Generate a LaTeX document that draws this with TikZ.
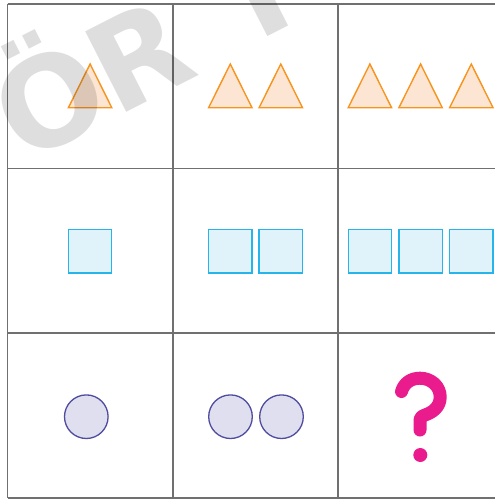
\documentclass[tikz,border=0pt]{standalone}
\usepackage{fontspec}
\newfontfamily\wmfont{DejaVu Sans Bold}
\definecolor{gridcol}{HTML}{707070}
\definecolor{triline}{HTML}{F7941D}
\definecolor{trifill}{HTML}{FDE5D3}
\definecolor{sqline}{HTML}{27B4EA}
\definecolor{sqfill}{HTML}{E0F3FA}
\definecolor{cirline}{HTML}{4F4C9F}
\definecolor{cirfill}{HTML}{E0DFEF}
\definecolor{qcol}{HTML}{EA1C8D}
\tikzset{
  gridline/.style={draw=gridcol, line width=1.8pt},
  tri/.style={draw=triline, fill=trifill, line width=1.4pt, line join=miter},
  sqr/.style={draw=sqline, fill=sqfill, line width=1.3pt},
  circ/.style={draw=cirline, fill=cirfill, line width=1.3pt},
  qmark/.style={draw=qcol, line width=13pt, line cap=round, line join=round},
  wmark/.style={text=black, text opacity=0.13, inner sep=0pt, anchor=base, rotate=27,
    font=\wmfont\fontsize{124}{124}\selectfont}
}
\begin{document}
\begin{tikzpicture}[x=1pt,y=-1pt]
\useasboundingbox (0,0) rectangle (495,499);
\clip (0,0) rectangle (495,499);
\fill[white] (0,0) rectangle (495,499);
% grid
\foreach \gx in {7.5,172.7,337.7} \draw[gridline] (\gx,3.7) -- (\gx,497.8);
\foreach \gy in {3.7,168.5,333.3,497.8} \draw[gridline] (7.5,\gy) -- (500,\gy);
% triangles
\foreach \cx in {90.1, 230.3, 280.8, 369.9, 420.6, 471.3}
  \draw[tri] (\cx-21.7,107.7) -- (\cx,64) -- (\cx+21.7,107.7) -- cycle;
% squares
\foreach \cx in {90.1, 230.3, 280.8, 369.9, 420.6, 471.3}
  \draw[sqr] (\cx-21.7,229.7) rectangle (\cx+21.7,273);
% circles
\foreach \cx in {86.3, 230.5, 281.5}
  \draw[circ] (\cx,416.7) circle[radius=21.8];
% question mark
\draw[qmark] (401.5,391.5) .. controls (404,383) and (411,378.2) .. (420,378.2)
  .. controls (431,378.2) and (440.2,386) .. (440.2,397)
  .. controls (440.2,408) and (431,413) .. (425,415)
  .. controls (421,416.5) and (420,418) .. (420,421.5) -- (420,430);
\fill[qcol] (420.3,455) circle[radius=7];
% watermark
\node[wmark] (wmO) at (70,141) {Ö};
\node[wmark] (wmR) at (159,95.5) {R};
\node[wmark] (wmT) at (278,31) {T};
\end{tikzpicture}
\end{document}
